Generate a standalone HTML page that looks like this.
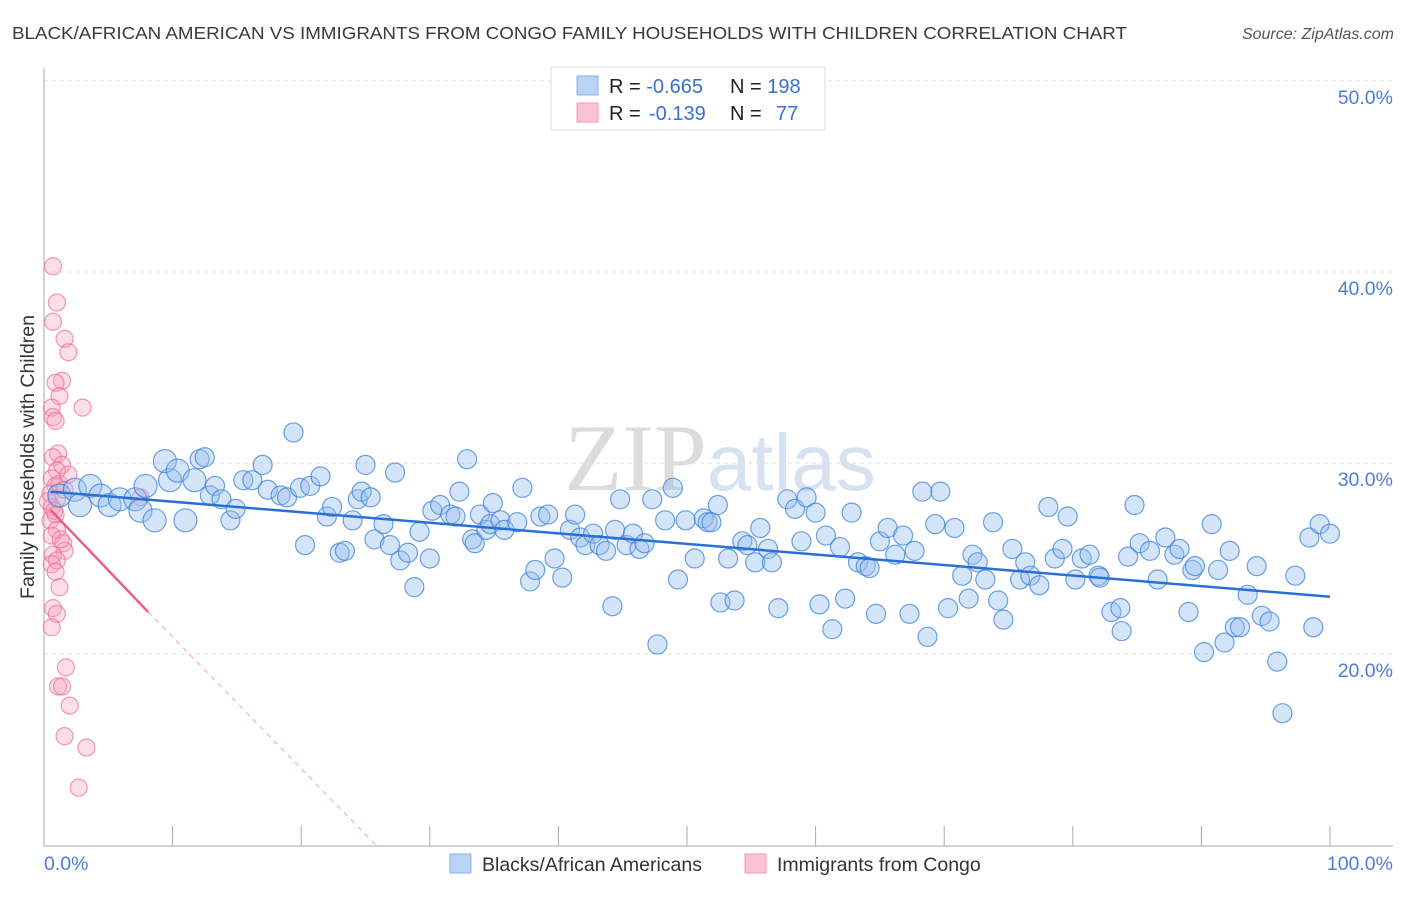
<!DOCTYPE html>
<html><head><meta charset="utf-8">
<style>
body{margin:0;background:#fff;font-family:"Liberation Sans",sans-serif;}
svg text{font-family:"Liberation Sans",sans-serif;}
</style></head>
<body>
<svg id="chart" width="1406" height="892" xmlns="http://www.w3.org/2000/svg">
<text x="12" y="39" font-size="17.5" fill="#3a3a3a" textLength="1115" lengthAdjust="spacingAndGlyphs">BLACK/AFRICAN AMERICAN VS IMMIGRANTS FROM CONGO FAMILY HOUSEHOLDS WITH CHILDREN CORRELATION CHART</text>
<text x="1394" y="39" font-size="16" fill="#555" font-style="italic" text-anchor="end">Source: ZipAtlas.com</text>
<text x="720" y="490" font-size="95" text-anchor="middle" fill="#e4e4e4"><tspan font-family="Liberation Serif" fill="#dcdcdc">ZIP</tspan><tspan fill="#d6e2f2" font-size="80">atlas</tspan></text>
<g id="grid"></g>
<g id="axes"></g>
<g id="pinkDots"></g>
<g id="blueDots"></g>
<g id="trends"></g>
<text transform="translate(34,457) rotate(-90)" font-size="19.5" fill="#333" text-anchor="middle">Family Households with Children</text>
<g>
<rect x="551" y="67" width="274" height="63" fill="#fff" stroke="#ddd"/>
<rect x="577" y="76" width="21" height="19" fill="#b8d3f5" stroke="#8ab2e8"/>
<rect x="577" y="103" width="21" height="19" fill="#fcc4d3" stroke="#f29ab3"/>
<text x="609" y="93" font-size="20" fill="#222">R = <tspan fill="#3a70d0">-0.665</tspan><tspan x="730">N = </tspan><tspan fill="#3a70d0">198</tspan></text>
<text x="609" y="120" font-size="20" fill="#222">R = <tspan fill="#3a70d0" x="649">-0.139</tspan><tspan x="730">N = </tspan><tspan fill="#3a70d0" x="776">77</tspan></text>
</g>
<g>
<rect x="450" y="854" width="21" height="19" fill="#b8d3f5" stroke="#8ab2e8"/>
<text x="482" y="871" font-size="19.5" fill="#333">Blacks/African Americans</text>
<rect x="745" y="854" width="21" height="19" fill="#fcc4d3" stroke="#f29ab3"/>
<text x="777" y="871" font-size="19.5" fill="#333">Immigrants from Congo</text>
</g>
</svg>
<script>
const yTicks=[20,30,40,50];
const xTickCount=10;
const blueX=[1.2,2.4,3.6,2.8,4.4,5.1,5.9,7.1,7.5,8.6,7.9,9.8,11.0,9.4,10.4,12.1,12.5,11.7,12.9,13.3,13.8,14.5,14.9,15.5,16.2,17.0,17.4,18.4,18.9,19.4,19.9,20.3,20.7,21.5,22.0,22.4,23.0,23.4,24.0,24.4,24.7,25.0,25.4,25.7,26.4,26.9,27.3,27.7,28.3,28.8,29.2,30.0,30.2,30.8,31.6,32.0,32.3,32.9,33.3,33.5,33.9,34.4,34.7,34.9,35.5,35.8,36.8,37.2,37.8,38.2,38.6,39.2,39.7,40.3,40.9,41.3,41.7,42.1,42.7,43.2,43.7,44.2,44.4,44.8,45.3,45.8,46.3,46.7,47.3,47.7,48.3,48.9,49.3,49.9,50.6,51.3,51.6,51.9,52.4,52.6,53.2,53.7,54.3,54.7,55.3,55.7,56.3,56.6,57.1,57.8,58.4,58.9,59.3,60.0,60.3,60.8,61.3,61.9,62.3,62.8,63.3,63.9,64.2,64.7,65.0,65.6,66.2,66.8,67.3,67.7,68.3,68.7,69.3,69.7,70.3,70.8,71.4,71.9,72.2,72.6,73.2,73.8,74.2,74.6,75.3,75.9,76.3,76.7,77.4,78.1,78.6,79.2,79.6,80.2,80.7,81.3,82.0,82.1,83.0,83.7,83.8,84.3,84.8,85.2,86.0,86.6,87.2,87.9,88.3,89.0,89.3,89.5,90.2,90.8,91.3,91.8,92.2,92.6,93.0,93.6,94.3,94.7,95.3,95.9,96.3,97.3,98.4,98.7,99.2,100];
const blueY=[28.3,28.6,28.8,27.8,28.3,27.8,28.1,28.1,27.5,27.0,28.8,29.1,27.0,30.1,29.6,30.2,30.3,29.1,28.3,28.8,28.1,27.0,27.6,29.1,29.1,29.9,28.6,28.3,28.2,31.6,28.7,25.7,28.8,29.3,27.2,27.7,25.3,25.4,27.0,28.1,28.5,29.9,28.2,26.0,26.8,25.7,29.5,24.9,25.3,23.5,26.4,25.0,27.5,27.8,27.3,27.2,28.5,30.2,26.0,25.8,27.3,26.5,26.8,27.9,27.0,26.5,26.9,28.7,23.8,24.4,27.2,27.3,25.0,24.0,26.5,27.3,26.1,25.7,26.3,25.7,25.4,22.5,26.5,28.1,25.7,26.3,25.5,25.8,28.1,20.5,27.0,28.7,23.9,27.0,25.0,27.1,26.9,26.9,27.8,22.7,25.0,22.8,25.9,25.7,24.8,26.6,25.5,24.8,22.4,28.1,27.6,25.9,28.2,27.4,22.6,26.2,21.3,25.6,22.9,27.4,24.8,24.6,24.5,22.1,25.9,26.6,25.2,26.2,22.1,25.4,28.5,20.9,26.8,28.5,22.4,26.6,24.1,22.9,25.2,24.8,23.9,26.9,22.8,21.8,25.5,23.9,24.8,24.1,23.6,27.7,25.0,25.5,27.2,23.9,25.0,25.2,24.1,24.0,22.2,22.4,21.2,25.1,27.8,25.8,25.4,23.9,26.1,25.2,25.5,22.2,24.4,24.6,20.1,26.8,24.4,20.6,25.4,21.4,21.4,23.1,24.6,22.0,21.7,19.6,16.9,24.1,26.1,21.4,26.8,26.3];
const pinkX=[0.7,1.0,0.7,1.6,1.9,1.4,0.9,1.2,0.6,3.0,0.7,0.9,1.1,0.7,1.4,1.0,0.6,0.9,0.5,1.0,0.6,0.9,0.5,1.0,0.6,1.5,1.6,0.7,1.0,0.6,0.9,1.2,0.7,1.0,0.6,1.7,1.1,1.4,2.0,1.6,3.3,2.7,7.5,1.2,1.6,0.3,1.9,0.8,1.3];
const pinkY=[40.3,38.4,37.4,36.5,35.8,34.3,34.2,33.5,32.9,32.9,32.4,32.2,30.5,30.3,29.9,29.6,29.2,28.8,28.4,28.1,27.7,27.3,27.0,26.5,26.2,25.8,25.4,25.2,24.9,24.7,24.3,23.5,22.4,22.1,21.4,19.3,18.3,18.3,17.3,15.7,15.1,13.0,28.2,28.9,28.6,28.0,29.4,27.5,26.0];
const blueTrend=[[0.5,28.5],[100,23.0]];
const pinkTrend=[[0.5,27.55],[8.1,22.2],[25.8,10]];

const NS='http://www.w3.org/2000/svg';
const X0=44,XW=12.86,Y20=654,YU=19.1;
function sx(v){return X0+v*XW;}
function sy(v){return Y20-(v-20)*YU;}
function mk(tag,attrs,parent){const e=document.createElementNS(NS,tag);for(const k in attrs)e.setAttribute(k,attrs[k]);parent.appendChild(e);return e;}
const grid=document.getElementById('grid'),axes=document.getElementById('axes');
yTicks.forEach(t=>{
  const l=mk('line',{x1:44,x2:1393,y1:sy(t),y2:sy(t),stroke:'#ddd','stroke-dasharray':'4,4'},grid);
  
  
  const tx=mk('text',{x:1393,y:sy(t)+23,'font-size':19.5,fill:'#4a7fd4','text-anchor':'end'},axes);
  tx.textContent=t.toFixed(1)+'%';
  
  
});
const ya=mk('line',{x1:44,x2:44,y1:68,y2:846,stroke:'#aaa'},axes);


const xa=mk('line',{x1:44,x2:1393,y1:846,y2:846,stroke:'#aaa'},axes);


for(let i=1;i<=xTickCount;i++){
  const t=mk('line',{x1:sx(i*10),x2:sx(i*10),y1:826,y2:846,stroke:'#aaa'},axes);
  
  
}
const xl0=mk('text',{x:44,y:870,'font-size':19.5,fill:'#4a7fd4'},axes);xl0.textContent='0.0%';


const xl1=mk('text',{x:1393,y:870,'font-size':19.5,fill:'#4a7fd4','text-anchor':'end'},axes);xl1.textContent='100.0%';



const pg=document.getElementById('pinkDots');
pinkX.forEach((x,i)=>{
  const c=mk('circle',{cx:sx(x),cy:sy(pinkY[i]),r:8.5,fill:'rgba(248,160,185,0.35)',stroke:'rgba(236,110,150,0.7)','stroke-width':1.2},pg);
  
  
});
const bg=document.getElementById('blueDots');
blueX.forEach((x,i)=>{
  const c=mk('circle',{cx:sx(x),cy:sy(blueY[i]),r:x<12?11.5:9.5,fill:'rgba(150,190,240,0.4)',stroke:'rgba(60,130,220,0.75)','stroke-width':1.2},bg);
  
  
});
const tg=document.getElementById('trends');
const bl=mk('line',{x1:sx(blueTrend[0][0]),y1:sy(blueTrend[0][1]),x2:sx(blueTrend[1][0]),y2:sy(blueTrend[1][1]),stroke:'#2a6fd6','stroke-width':2.5},tg);


const pl=mk('line',{x1:sx(pinkTrend[0][0]),y1:sy(pinkTrend[0][1]),x2:sx(pinkTrend[1][0]),y2:sy(pinkTrend[1][1]),stroke:'#e8608a','stroke-width':2.5},tg);


const pd=mk('line',{x1:sx(pinkTrend[1][0]),y1:sy(pinkTrend[1][1]),x2:sx(pinkTrend[2][0]),y2:sy(pinkTrend[2][1]),stroke:'#eea0b8','stroke-width':1,'stroke-dasharray':'5,5'},tg);


</script>
</body></html>
